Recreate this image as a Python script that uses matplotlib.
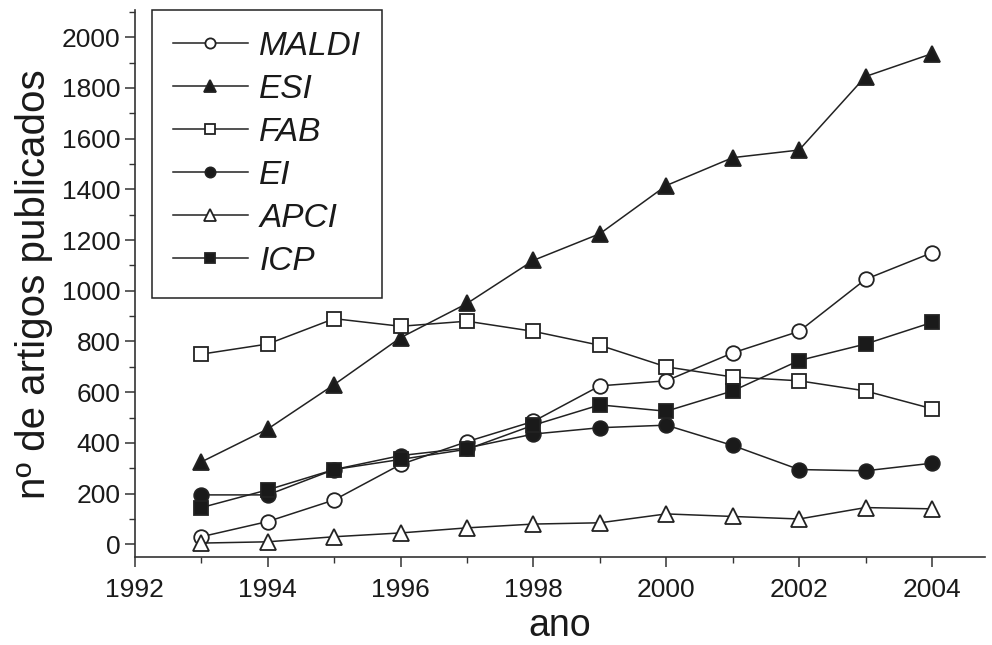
import matplotlib
matplotlib.use("Agg")
import matplotlib.pyplot as plt
from matplotlib.ticker import MultipleLocator

plt.rcParams['font.family'] = ['Liberation Sans', 'DejaVu Sans']

years = [1993, 1994, 1995, 1996, 1997, 1998, 1999, 2000, 2001, 2002, 2003, 2004]
maldi = [30, 90, 175, 315, 405, 485, 625, 645, 755, 840, 1045, 1150]
esi = [325, 455, 630, 815, 950, 1120, 1225, 1415, 1525, 1555, 1845, 1935]
fab = [750, 790, 890, 860, 880, 840, 785, 700, 660, 645, 605, 535]
ei = [195, 195, 295, 350, 380, 435, 460, 470, 390, 295, 290, 320]
apci = [5, 10, 30, 45, 65, 80, 85, 120, 110, 100, 145, 140]
icp = [145, 215, 295, 335, 375, 470, 550, 525, 605, 725, 790, 875]

labels = ['MALDI', 'ESI', 'FAB', 'EI', 'APCI', 'ICP']
series = [maldi, esi, fab, ei, apci, icp]
markers = ['o', '^', 's', 'o', '^', 's']
fills = ['white', '#1a1a1a', 'white', '#1a1a1a', 'white', '#1a1a1a']
msizes = [10.5, 11.5, 10, 10.5, 11.5, 10]

fig = plt.figure(figsize=(9.92, 6.45), dpi=100)
ax = fig.add_axes([0.136, 0.136, 0.857, 0.848])

for lab, s, m, fc, ms in zip(labels, series, markers, fills, msizes):
    ax.plot(years, s, color='#222222', lw=1.1, marker=m, markersize=ms,
            markerfacecolor=fc, markeredgecolor='#222222', markeredgewidth=1.3,
            label=lab)

ax.set_xlim(1992, 2004.8)
ax.set_ylim(-51, 2106)
ax.xaxis.set_major_locator(MultipleLocator(2))
ax.xaxis.set_minor_locator(MultipleLocator(1))
ax.yaxis.set_major_locator(MultipleLocator(200))
ax.yaxis.set_minor_locator(MultipleLocator(100))
ax.set_yticks(range(0, 2001, 200))

for sp in ['top', 'right']:
    ax.spines[sp].set_visible(False)
for sp in ['left', 'bottom']:
    ax.spines[sp].set_linewidth(1.2)
    ax.spines[sp].set_color('#333333')

ax.tick_params(axis='both', which='major', direction='out', length=7, width=1.1,
               labelsize=19, colors='#333333', labelcolor='#1a1a1a')
ax.tick_params(axis='both', which='minor', direction='out', length=4, width=1.0,
               colors='#333333')
ax.tick_params(axis='x', which='major', pad=8)

ax.set_xlabel('ano', fontsize=27, color='#1a1a1a', labelpad=4)
ax.set_ylabel('nº de artigos publicados', fontsize=29, color='#1a1a1a', labelpad=6)

leg = ax.legend(loc='upper left', bbox_to_anchor=(0.02, 1.0), frameon=True,
                fancybox=False, edgecolor='#222222', framealpha=1,
                prop={'style': 'italic', 'size': 24}, handlelength=2.25,
                labelspacing=0.36, markerscale=0.7, borderpad=0.62,
                handletextpad=0.35, borderaxespad=0.0)
leg.get_frame().set_linewidth(1.1)
for t in leg.get_texts():
    t.set_color('#1a1a1a')

fig.savefig('out.png', dpi=100)
